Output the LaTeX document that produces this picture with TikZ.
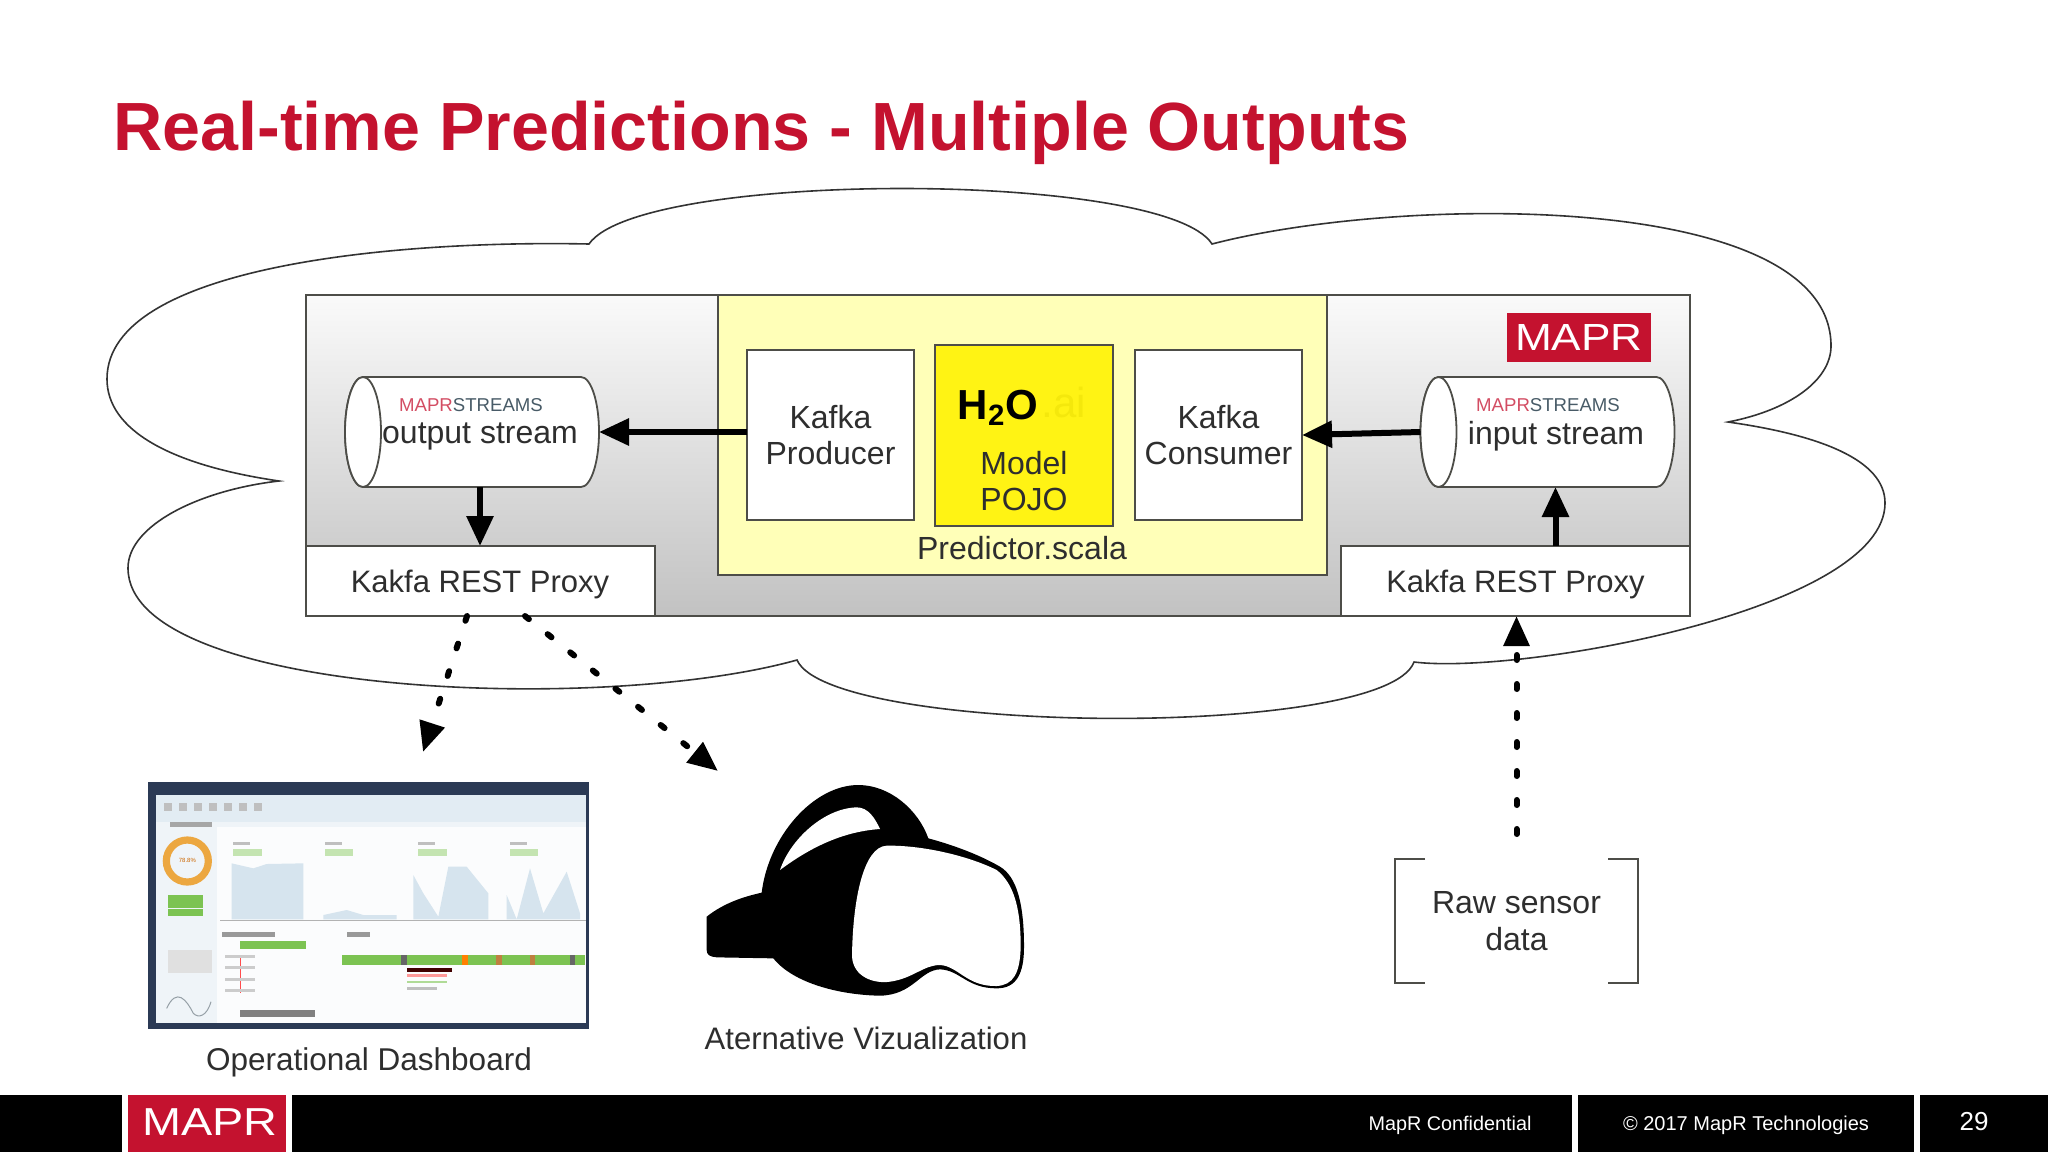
\documentclass[tikz,border=0pt]{standalone}
\usepackage{fontspec}
\setmainfont{Liberation Sans}
\usetikzlibrary{arrows.meta}
\definecolor{maprred}{HTML}{C4122F}
\definecolor{boxline}{HTML}{4D4D48}
\definecolor{paleyellow}{HTML}{FFFFB8}
\definecolor{textdark}{HTML}{2E2E2E}
\definecolor{framedark}{HTML}{2B3A55}
\definecolor{areablue}{HTML}{D6E4EE}
\definecolor{dashgreen}{HTML}{7CC352}
\tikzset{
  boxnode/.style={draw=boxline, line width=1pt, fill=white, inner sep=0pt, outer sep=0pt, align=center, text=textdark, font=\fontsize{16}{18.2}\selectfont},
  streamnode/.style={minimum width=127pt, minimum height=55pt, inner sep=0pt, outer sep=0pt},
  plaintext/.style={inner sep=0pt, outer sep=0pt, align=center, text=textdark, font=\fontsize{16}{18.2}\selectfont},
  flowarrow/.style={line width=3pt, black, -{Triangle[length=15pt,width=13pt]}},
  dasharrow/.style={line width=3pt, black, line cap=round, dash pattern=on 2.5pt off 12pt, -{Triangle[length=15pt,width=12.5pt]}},
  footerbar/.style={fill=black, inner sep=0pt, outer sep=0pt, minimum height=28.5pt, text=white, font=\fontsize{10}{12}\selectfont},
}
\begin{document}
\begin{tikzpicture}[x=0.5pt, y=-0.5pt]
  \useasboundingbox (0,0) rectangle (2048,1152);
  \fill[white] (0,0) rectangle (2048,1152);
  % title
  \node[anchor=base west, inner sep=0pt, text=maprred, font=\fontsize{34.1}{38}\selectfont\bfseries] (title) at (113,150) {Real-time Predictions - Multiple Outputs};
  % cloud
  \draw[line width=0.8pt, black!80] (589,244)
    .. controls (640,170) and (1165,170) .. (1212,244)
    .. controls (1400,195) and (1831,190) .. (1831,346)
    .. controls (1831,380) and (1790,410) .. (1728,422)
    .. controls (1820,435) and (1885,460) .. (1885,503)
    .. controls (1885,610) and (1520,675) .. (1414,662)
    .. controls (1385,740) and (830,735) .. (797,660)
    .. controls (600,715) and (128,695) .. (128,568)
    .. controls (128,525) and (200,490) .. (279,481)
    .. controls (170,465) and (107,430) .. (107,379)
    .. controls (107,265) and (400,240) .. (589,244) -- cycle;
  % main panel
  \node[draw=boxline, line width=1pt, top color=black!2, bottom color=black!24, inner sep=0pt, outer sep=0pt, minimum width=692pt, minimum height=160.5pt] (panel) at (998,455.5) {};
  \node[boxnode, fill=paleyellow, minimum width=304.5pt, minimum height=140pt] (predictor) at (1022.5,435) {};
  \node[boxnode, minimum width=83.5pt, minimum height=85pt] (producer) at (830.5,435) {Kafka\\Producer};
  \node[boxnode, fill=yellow!92!white, minimum width=89pt, minimum height=90.5pt] (model) at (1024,435.5) {};
  \node[boxnode, minimum width=83.5pt, minimum height=85pt] (consumer) at (1218.5,435) {Kafka\\Consumer};
  \node[plaintext] (pojo) at (1024,481) {Model\\POJO};
  \node[plaintext] (scala) at (1022,548) {Predictor.scala};
  \node[inner sep=0pt, font=\fontsize{21}{24}\selectfont\bfseries] (water) at (998,408) {H$_{\mathbf 2}$O};
  \node[inner sep=0pt, text=yellow!95!black, font=\fontsize{21}{24}\selectfont] (ai) at (1064,402) {.ai};
  \node[boxnode, font=\fontsize{15.5}{18}\selectfont, minimum width=174.5pt, minimum height=35pt] (leftproxy) at (480,581) {\raisebox{-5.8pt}[0pt][0pt]{Kakfa REST Proxy}};
  \node[boxnode, font=\fontsize{15.5}{18}\selectfont, minimum width=174.5pt, minimum height=35pt] (rightproxy) at (1515.5,581) {\raisebox{-5.8pt}[0pt][0pt]{Kakfa REST Proxy}};
  % streams
  \node[streamnode] (outstream) at (472,432) {};
  \node[streamnode] (instream) at (1547.5,432) {};
  \def\rr{9pt}
  \foreach \s in {outstream,instream}{
    \draw[line width=0.9pt, boxline, fill=white] ([xshift=\rr]\s.north west) -- ([xshift=-\rr]\s.north east)
      arc[x radius=\rr, y radius=27.5pt, start angle=90, end angle=-90] -- ([xshift=\rr]\s.south west)
      arc[x radius=\rr, y radius=27.5pt, start angle=270, end angle=90] -- cycle;
    \draw[line width=0.9pt, boxline, fill=white] ([xshift=\rr]\s.west) circle[x radius=\rr, y radius=27.5pt];
  }
  \foreach \name/\x/\word in {outlabel/480/output stream, inlabel/1556/input stream}{
    \node[plaintext] (\name) at (\x,436) {\word};
  }
  \foreach \name/\x in {outlogo/471, inlogo/1548}{
    \node[inner sep=0pt, font=\fontsize{9.3}{10}\selectfont] (\name) at (\x,405) {\textcolor{maprred!75!white}{MAPR}\textcolor{black!60!cyan!80!black}{STREAMS}};
  }
  % logo
  \node[fill=maprred, minimum width=72pt, minimum height=24.5pt, inner sep=0pt] (toplogo) at (1579,337.5) {};
  \node[text=white, xscale=1.17, transform shape, inner sep=0pt, font=\fontsize{18.9}{20}\selectfont] (toplogotext) at (1579,337.5) {MAPR};
  % arrows
  \draw[flowarrow] (outstream.east -| producer.west) -- (outstream.east);
  \draw[flowarrow] (instream.west) -- (consumer.east);
  \draw[flowarrow] (leftproxy.north |- outstream.south) -- (leftproxy.north);
  \draw[flowarrow] ([xshift=20pt]rightproxy.north) -- ([xshift=20pt]rightproxy.north |- instream.south);
  \coordinate (screentip) at (423,752);
  \coordinate (headsettip) at (718,771);
  \draw[dasharrow] ([xshift=-6.5pt]leftproxy.south) -- (screentip);
  \draw[dasharrow] ([xshift=22.5pt]leftproxy.south) -- (headsettip);
  % raw data
  \node[plaintext, minimum width=121.5pt, minimum height=62pt] (rawdata) at (1516.5,921) {Raw sensor\\data};
  \draw[line width=0.9pt, boxline] (rawdata.north west) ++(30,0) -| (rawdata.south west) -- ++(30,0);
  \draw[line width=0.9pt, boxline] (rawdata.north east) ++(-30,0) -| (rawdata.south east) -- ++(-30,0);
  \draw[dasharrow] ([yshift=12.5pt]rawdata.north) -- (rawdata.north |- rightproxy.south);
  % dashboard
  \begin{scope}[shift={(130,760)}, x=0.16667pt, y=-0.16667pt]
    \fill[framedark] (55,65) rectangle (1378,808);
    \fill[areablue!40!white] (78,105) rectangle (1368,790);
    \fill[areablue!70!white] (78,105) rectangle (1368,185);
    \fill[black!2!areablue!8!white] (262,200) rectangle (1368,790);
    \fill[black!35] (120,185) rectangle (245,200);
    \foreach \x in {115,160,205,250,295,340,385}{
      \fill[black!25] (\x-12,128) rectangle (\x+12,152);
    }
    \draw[line width=3.6pt, orange!80!yellow!90!black!75!white] (172,303) circle (63);
    \node[inner sep=0pt, font=\fontsize{3}{3}\selectfont, text=orange!80!black] (donut) at (172,300) {78.8\%};
    \foreach \y in {415,435,458}{
      \fill[dashgreen] (115,\y-10) rectangle (220,\y+10);
    }
    \foreach \x in {310,585,865,1140}{
      \fill[dashgreen!45!white] (\x,268) rectangle (\x+85,288);
      \fill[black!25] (\x,246) rectangle (\x+50,254);
    }
    \fill[areablue] (305,310) -- (370,325) -- (410,312) -- (520,310) -- (520,478) -- (305,478) -- cycle;
    \fill[areablue] (580,465) -- (650,450) -- (700,465) -- (800,465) -- (800,478) -- (580,478) -- cycle;
    \fill[areablue] (850,345) -- (880,400) -- (925,470) -- (955,320) -- (1010,320) -- (1075,400) -- (1075,478) -- (850,478) -- cycle;
    \fill[areablue] (1130,405) -- (1160,478) -- (1200,325) -- (1240,460) -- (1310,335) -- (1350,460) -- (1350,478) -- (1130,478) -- cycle;
    \draw[line width=0.4pt, black!30] (270,482) -- (1368,482);
    \fill[black!40] (275,515) rectangle (435,532);
    \fill[black!40] (650,515) rectangle (720,532);
    \fill[dashgreen] (330,543) rectangle (528,566);
    \draw[line width=0.4pt, red!70] (330,585) -- (330,700);
    \foreach \y in {590,623,658,692}{
      \fill[black!20] (285,\y-4) rectangle (375,\y+4);
    }
    \fill[black!50] (330,750) rectangle (555,772);
    \fill[dashgreen] (635,585) rectangle (1365,615);
    \foreach \x/\c in {822/black!60, 1005/orange, 1107/brown, 1208/brown, 1328/black!60}{
      \fill[\c] (\x-8,585) rectangle (\x+8,615);
    }
    \fill[black!75!red] (832,624) rectangle (965,636);
    \fill[red!40] (832,642) rectangle (950,650);
    \fill[dashgreen!60] (832,662) rectangle (950,670);
    \fill[black!25] (832,682) rectangle (920,690);
    \fill[black!12] (115,570) rectangle (245,640);
    \draw[line width=0.5pt, areablue!70!black] (110,745) .. controls (140,680) and (170,720) .. (190,760) .. controls (205,775) and (230,770) .. (243,725);
  \end{scope}
  \node[plaintext, font=\fontsize{15.75}{18}\selectfont] (dashlabel) at (369,1062) {Operational Dashboard};
  % headset
  \begin{scope}[shift={(680,760)}, x=0.16667pt, y=-0.16667pt]
    \fill[black] (80,470) .. controls (130,430) and (190,410) .. (245,398)
      .. controls (265,230) and (400,75) .. (535,75)
      .. controls (630,75) and (715,150) .. (745,235)
      .. controls (820,255) and (900,285) .. (960,320)
      .. controls (1010,350) and (1032,430) .. (1032,560)
      .. controls (1032,640) and (1010,685) .. (950,685)
      .. controls (860,685) and (840,630) .. (780,628)
      .. controls (720,630) and (700,705) .. (600,707)
      .. controls (480,705) and (340,670) .. (280,595)
      -- (110,592) .. controls (90,590) and (80,585) .. (80,570) -- cycle;
    \fill[white] (300,330) .. controls (330,240) and (430,145) .. (530,142)
      .. controls (565,142) and (585,175) .. (600,207)
      .. controls (480,215) and (380,270) .. (300,330) -- cycle;
    \fill[white] (620,257) .. controls (550,260) and (518,420) .. (516,590)
      .. controls (520,650) and (580,672) .. (630,665)
      .. controls (700,655) and (730,615) .. (780,615)
      .. controls (835,618) and (860,680) .. (950,678)
      .. controls (1000,675) and (1020,640) .. (1022,560)
      .. controls (1022,440) and (1000,370) .. (950,330)
      .. controls (860,285) and (720,255) .. (620,257) -- cycle;
  \end{scope}
  \node[plaintext, font=\fontsize{15.55}{18}\selectfont] (vizlabel) at (866,1038) {Aternative Vizualization};
  % footer
  \node[footerbar, minimum width=61pt] (barleft) at (61,1123.5) {};
  \node[footerbar, fill=maprred, minimum width=79pt] (footlogo) at (207,1123.5) {};
  \node[text=white, xscale=1.2, transform shape, inner sep=0pt, font=\fontsize{19.5}{20}\selectfont] (footlogotext) at (210,1122) {MAPR};
  \node[footerbar, minimum width=640pt] (barmid) at (932,1123.5) {};
  \node[footerbar, minimum width=168pt] (barcopy) at (1746,1123.5) {\raisebox{-3.3pt}[0pt][0pt]{\textcopyright\ 2017 MapR Technologies}};
  \node[footerbar, minimum width=64pt] (barpage) at (1984,1123.5) {};
  \node[text=white, inner sep=0pt, font=\fontsize{9.9}{12}\selectfont] (confidential) at (1450,1125) {MapR Confidential};
  \node[text=white, inner sep=0pt, font=\fontsize{13}{14}\selectfont] (pagenum) at (1974,1122) {29};
\end{tikzpicture}
\end{document}
